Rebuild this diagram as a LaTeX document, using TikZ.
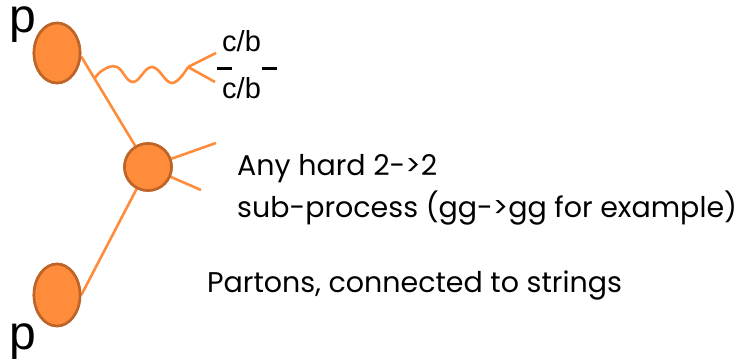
\documentclass[tikz,border=0pt]{standalone}
\usepackage{fontspec}
\usetikzlibrary{shapes.geometric}
\setmainfont{Poppins}
\newfontfamily\arialfont{Liberation Sans}
\begin{document}
\begin{tikzpicture}[x=1pt,y=-1pt,
  blob/.style={ellipse, draw=blobedge, fill=blobfill, line width=2.6pt, inner sep=0pt},
  parton/.style={draw=linecol, line width=2.6pt},
  label/.style={anchor=base west, inner sep=0pt, font=\fontsize{28.5}{32}\selectfont},
  plabel/.style={anchor=base west, inner sep=0pt, text height=25pt, text depth=10pt,
    font=\arialfont\fontsize{48}{52}\selectfont},
  qlabel/.style={anchor=base west, inner sep=0pt, font=\arialfont\fontsize{29}{33}\selectfont}]
\definecolor{blobfill}{HTML}{FF8C3B}
\definecolor{blobedge}{HTML}{BF6428}
\definecolor{linecol}{HTML}{FF8C3B}
\useasboundingbox (0,0) rectangle (752,361);

% incoming protons and the hard vertex
\node[blob, minimum width=46pt, minimum height=60pt] (top) at (57,53) {};
\node[blob, minimum width=46pt, minimum height=62pt] (bot) at (57,295) {};
\node[blob, circle, minimum size=47pt] (mid) at (148,167) {};

% outgoing partons of the hard process
\coordinate (o1) at (216,143);
\coordinate (o2) at (201,190);

% emitted boson and its quark pair
\coordinate (w0) at (95,78);
\coordinate (v) at (188,67);
\coordinate (q1) at (216,53);
\coordinate (q2) at (215,82);

\draw[parton] (top.-8) -- (mid);
\draw[parton] (bot.east) -- (mid);
\draw[parton] (mid) -- (o1);
\draw[parton] (mid) -- (o2);
\draw[parton, line join=round] plot[smooth, tension=0.7] coordinates
  {(w0) (103,70) (117,67) (133,82) (152,67) (172,83) (188,67)};
\draw[parton] (v) -- (q1);
\draw[parton] (v) -- (q2);

% redraw blobs on top of line ends
\node[blob, minimum width=46pt, minimum height=60pt] at (top) {};
\node[blob, minimum width=46pt, minimum height=62pt] at (bot) {};
\node[blob, circle, minimum size=47pt] at (mid) {};

% labels
\node[plabel] (ptop) at (9,33) {p};
\node[plabel] (pbot) at (9,349) {p};
\node[qlabel] (c1) at (222,52) {c/b};
\node[qlabel] (c2) at (222,98) {c/b};
\draw[line width=3pt] (217,69) -- (232,69);
\draw[line width=3pt] (262,69) -- (277,69);

\node[label] (t1) at (237,175) {Any hard 2->2};
\node[label] (t2) at (237,217) {sub-process (gg->gg for example)};
\node[label] (t3) at (207,292) {Partons, connected to strings};
\end{tikzpicture}
\end{document}
